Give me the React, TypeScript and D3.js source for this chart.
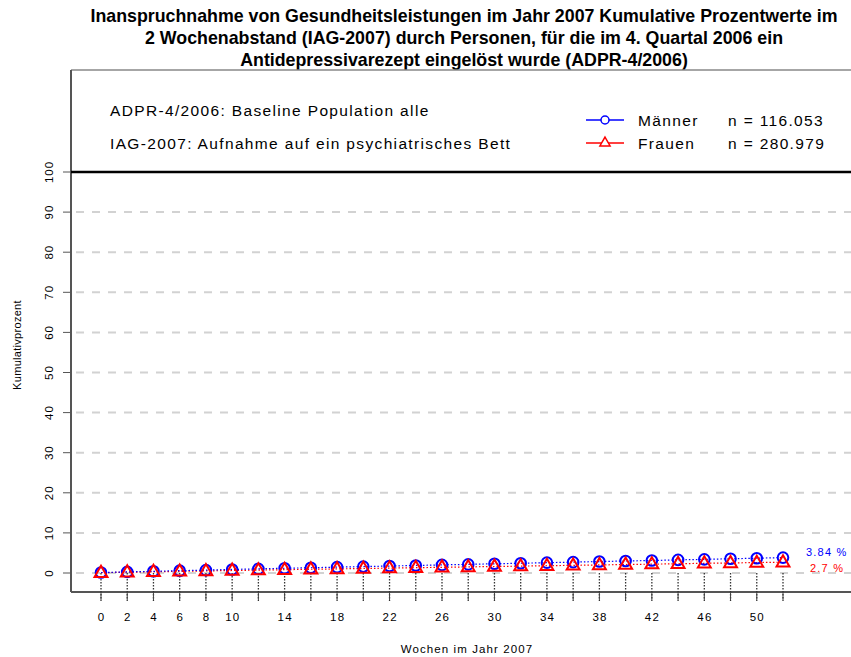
import React from "react";
import * as d3 from "d3";

const weeks = [0, 2, 4, 6, 8, 10, 12, 14, 16, 18, 20, 22, 24, 26, 28, 30, 32, 34, 36, 38, 40, 42, 44, 46, 48, 50, 52];
const maenner = [0.12, 0.27, 0.42, 0.58, 0.72, 0.89, 1.03, 1.18, 1.31, 1.46, 1.6, 1.74, 1.88, 2.02, 2.15, 2.3, 2.43, 2.58, 2.71, 2.86, 2.99, 3.12, 3.27, 3.4, 3.55, 3.69, 3.84];
const frauen = [0.08, 0.19, 0.3, 0.41, 0.52, 0.62, 0.72, 0.83, 0.93, 1.02, 1.12, 1.22, 1.32, 1.42, 1.52, 1.62, 1.71, 1.82, 1.91, 2.01, 2.12, 2.21, 2.31, 2.42, 2.51, 2.6, 2.7];
const xTickLabels = [0, 2, 4, 6, 8, 10, 14, 18, 22, 26, 30, 34, 38, 42, 46, 50];
const yTicks = [0, 10, 20, 30, 40, 50, 60, 70, 80, 90, 100];
const titleLines = [
  "Inanspruchnahme von Gesundheitsleistungen im Jahr 2007 Kumulative Prozentwerte im",
  "2 Wochenabstand (IAG-2007) durch Personen, für die im 4. Quartal 2006 ein",
  "Antidepressivarezept eingelöst wurde (ADPR-4/2006)",
];
const infoLines = ["ADPR-4/2006: Baseline Population alle", "IAG-2007: Aufnahme auf ein psychiatrisches Bett"];
const legendItems = [
  { name: "Männer", n: "n = 116.053", color: "#0000ff", shape: "circle" },
  { name: "Frauen", n: "n = 280.979", color: "#ff0000", shape: "triangle" },
];
const endLabels = ["3.84 %", "2.7 %"];

export default function App() {
  const W = 851, H = 657;
  const x = d3.scaleLinear().domain([0, 52]).range([101, 783]);
  const y = d3.scaleLinear().domain([0, 100]).range([573, 172]);
  const axisY = 592;
  const axisX = 71;
  const font = "'Liberation Sans', Arial, Helvetica, sans-serif";

  const lineM = d3.line<number>().x((_, i) => x(weeks[i])).y((d) => y(d));
  const tri = d3.symbol().type(d3.symbolTriangle).size(72)();

  return (
    <svg width={W} height={H} style={{ position: "absolute", left: 0, top: 0, background: "#fff" }} fontFamily={font}>
      <rect x={0} y={0} width={W} height={H} fill="#fff" />
      {titleLines.map((t, i) => (
        <text key={i} x={464} y={22 + i * 22} textAnchor="middle" fontWeight="bold" fontSize={17.8} fill="#000">
          {t}
        </text>
      ))}
      {/* frame */}
      <line x1={axisX} x2={W} y1={70} y2={70} stroke="#888" strokeWidth={1.5} />
      <line x1={axisX} x2={axisX} y1={70} y2={axisY} stroke="#555" strokeWidth={2} />
      <line x1={axisX} x2={W} y1={axisY} y2={axisY} stroke="#555" strokeWidth={2} />
      {/* grid */}
      {yTicks.filter((t) => t < 100).map((t) => (
        <line key={t} x1={axisX} x2={W} y1={y(t)} y2={y(t)} stroke="#d2d2d2" strokeWidth={2} strokeDasharray="8,8" strokeDashoffset={-5} />
      ))}
      <line x1={axisX} x2={W} y1={y(100)} y2={y(100)} stroke="#000" strokeWidth={2.5} />
      {/* y ticks */}
      {yTicks.map((t) => (
        <g key={t}>
          <line x1={axisX - 8} x2={axisX} y1={y(t)} y2={y(t)} stroke="#555" strokeWidth={1} />
          <text transform={`translate(${53},${y(t)}) rotate(-90)`} textAnchor="middle" fontSize={11.5} letterSpacing={1} fill="#000">
            {t}
          </text>
        </g>
      ))}
      <text transform={`translate(21,${345}) rotate(-90)`} textAnchor="middle" fontSize={11} letterSpacing={0.3} fill="#000">
        Kumulativprozent
      </text>
      {/* x drop lines & ticks */}
      {weeks.map((w) => (
        <g key={w}>
          <line x1={x(w)} x2={x(w)} y1={y(0)} y2={axisY + 9} stroke="#333" strokeWidth={1.3} strokeDasharray="1.5,1.5" />
          <line x1={x(w)} x2={x(w)} y1={axisY} y2={axisY + 8} stroke="#444" strokeWidth={1} />
        </g>
      ))}
      {xTickLabels.map((w) => (
        <text key={w} x={x(w) + 0.6} y={621} textAnchor="middle" fontSize={11.5} letterSpacing={1.2} fill="#000">
          {w}
        </text>
      ))}
      <text x={467} y={653} textAnchor="middle" fontSize={11.5} letterSpacing={1.1} fill="#000">
        Wochen im Jahr 2007
      </text>
      {/* series lines */}
      <path d={lineM(frauen) || ""} fill="none" stroke="#ff0000" strokeWidth={1.2} strokeDasharray="1.5,2" />
      <path d={lineM(maenner) || ""} fill="none" stroke="#0000ff" strokeWidth={1.2} strokeDasharray="1.5,2" />
      {maenner.map((v, i) => (
        <circle key={"m" + i} cx={x(weeks[i])} cy={y(v)} r={5.3} fill="none" stroke="#0000ff" strokeWidth={2} />
      ))}
      {frauen.map((v, i) => (
        <path key={"f" + i} d={tri || ""} transform={`translate(${x(weeks[i])},${y(v) + 0.5})`} fill="none" stroke="#ff0000" strokeWidth={2} />
      ))}
      {/* end labels */}
      <text x={806} y={556} fontSize={11} letterSpacing={1.2} fill="#0000ff">{endLabels[0]}</text>
      <text x={810} y={572} fontSize={11} letterSpacing={1.2} fill="#ff0000">{endLabels[1]}</text>
      {/* info text */}
      {infoLines.map((t, i) => (
        <text key={i} x={110} y={116 + i * 33} fontSize={15.5} letterSpacing={1.35} fill="#000">
          {t}
        </text>
      ))}
      {/* legend */}
      {legendItems.map((it, i) => {
        const ly = 120 + i * 23;
        return (
          <g key={it.name}>
            <line x1={586} x2={624} y1={ly} y2={ly} stroke={it.color} strokeWidth={1.5} />
            {it.shape === "circle" ? (
              <circle cx={605} cy={ly} r={4} fill="#fff" stroke={it.color} strokeWidth={1.5} />
            ) : (
              <path d={d3.symbol().type(d3.symbolTriangle).size(45)() || ""} transform={`translate(605,${ly})`} fill="#fff" stroke={it.color} strokeWidth={1.5} />
            )}
            <text x={638} y={ly + 6} fontSize={15.5} letterSpacing={1.35} fill="#000">{it.name}</text>
            <text x={728} y={ly + 6} fontSize={15.5} letterSpacing={1.35} fill="#000">{it.n}</text>
          </g>
        );
      })}
    </svg>
  );
}
